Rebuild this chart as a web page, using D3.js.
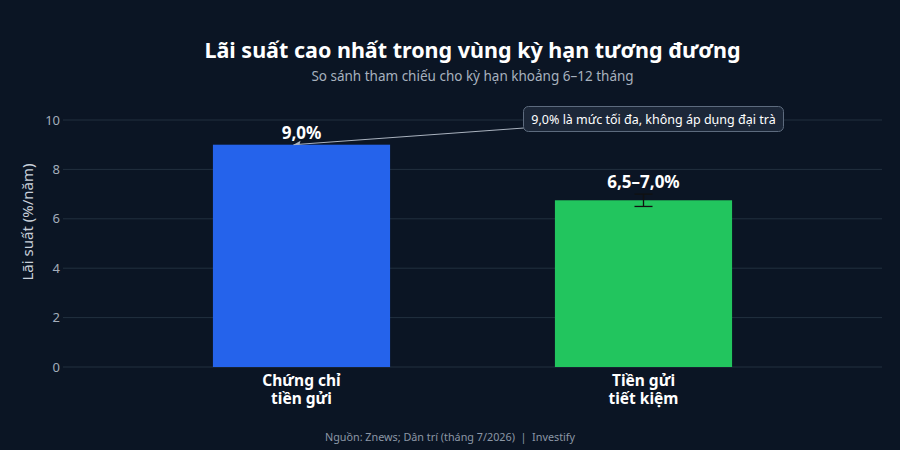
<!DOCTYPE html>
<html>
<head>
<meta charset="utf-8">
<script src="https://cdn.jsdelivr.net/npm/d3@7"></script>
<style>
  body { margin: 0; background: #0b1524; }
  svg text { font-family: "Noto Sans", "Open Sans", sans-serif; white-space: pre; }
</style>
</head>
<body>
<div id="chart"></div>
<script>
// data
var categories = [["Chứng chỉ", "tiền gửi"], ["Tiền gửi", "tiết kiệm"]];
var values = [9.0, 6.75];
var lows = [null, 6.5];
var highs = [null, 7.0];
var valueLabels = ["9,0%", "6,5–7,0%"];
var colors = ["#2563eb", "#22c55e"];
var yTicks = [0, 2, 4, 6, 8, 10];

var w = 900, h = 450;
var pLeft = 63, pRight = 882, pTop = 120, pBottom = 367;
var midX = (pLeft + pRight) / 2;

var svg = d3.select('#chart').append('svg')
    .attr('width', w).attr('height', h);

svg.append('rect').attr('width', w).attr('height', h).attr('fill', '#0b1524');

var y = d3.scaleLinear().domain([0, 10]).range([pBottom, pTop]);
var x = d3.scaleBand().domain([0, 1]).range([130.5, 814.5]).paddingInner(0.482).paddingOuter(0.241);

// grid
svg.append('g').selectAll('line').data(yTicks).enter().append('line')
    .attr('x1', pLeft).attr('x2', pRight)
    .attr('y1', function(d) { return y(d); }).attr('y2', function(d) { return y(d); })
    .attr('stroke', '#22303f').attr('stroke-width', 1);

svg.append('g').selectAll('text').data(yTicks).enter().append('text')
    .attr('x', pLeft - 3).attr('y', function(d) { return y(d); })
    .attr('dy', '0.35em').attr('text-anchor', 'end')
    .attr('fill', '#a3adba').attr('font-size', 13)
    .text(function(d) { return d; });

svg.append('text')
    .attr('transform', 'translate(33,222) rotate(-90)')
    .attr('text-anchor', 'middle').attr('fill', '#c8d0da').attr('font-size', 15)
    .text('Lãi suất (%/năm)');

// bars
svg.append('g').selectAll('rect').data(values).enter().append('rect')
    .attr('x', function(d, i) { return x(i); })
    .attr('width', x.bandwidth())
    .attr('y', function(d) { return y(d); })
    .attr('height', function(d) { return pBottom - y(d); })
    .attr('fill', function(d, i) { return colors[i]; });

// error bar
values.forEach(function(v, i) {
  if (lows[i] == null) return;
  var cx = x(i) + x.bandwidth() / 2;
  var g = svg.append('g').attr('stroke', '#111').attr('stroke-width', 1.3);
  g.append('line').attr('x1', cx).attr('x2', cx).attr('y1', y(highs[i])).attr('y2', y(lows[i]));
  g.append('line').attr('x1', cx - 9).attr('x2', cx + 9).attr('y1', y(highs[i])).attr('y2', y(highs[i]));
  g.append('line').attr('x1', cx - 9).attr('x2', cx + 9).attr('y1', y(lows[i])).attr('y2', y(lows[i]));
});

// value labels
svg.append('g').selectAll('text').data(values).enter().append('text')
    .attr('x', function(d, i) { return x(i) + x.bandwidth() / 2; })
    .attr('y', function(d, i) { return y(highs[i] != null ? highs[i] : d) - 6; })
    .attr('text-anchor', 'middle').attr('fill', '#ffffff')
    .attr('font-size', 17).attr('font-weight', 'bold')
    .text(function(d, i) { return valueLabels[i]; });

// category labels, one text per line
categories.forEach(function(lines, i) {
  svg.append('g').selectAll('text').data(lines).enter().append('text')
      .attr('x', x(i) + x.bandwidth() / 2)
      .attr('y', function(d, j) { return 386 + j * 18; })
      .attr('text-anchor', 'middle').attr('fill', '#ffffff')
      .attr('font-size', 15.5).attr('font-weight', 'bold')
      .text(function(d) { return d; });
});

// annotation
var ax = x(0) + x.bandwidth() / 2 - 8, ay = y(values[0]);
svg.append('line').attr('x1', 524).attr('y1', 128).attr('x2', ax).attr('y2', ay)
    .attr('stroke', '#aab3bf').attr('stroke-width', 1);
svg.append('path').attr('d', 'M' + ax + ',' + ay + ' l7,-4 l-1,4 z').attr('fill', '#aab3bf');
svg.append('rect').attr('x', 523.5).attr('y', 106.5).attr('width', 260).attr('height', 25)
    .attr('rx', 5).attr('fill', '#1c2738').attr('stroke', '#5d6b7e').attr('stroke-width', 1);
svg.append('text').attr('x', 653.5).attr('y', 123.5).attr('text-anchor', 'middle')
    .attr('fill', '#ffffff').attr('font-size', 12.5)
    .text('9,0% là mức tối đa, không áp dụng đại trà');

// titles
svg.append('text').attr('x', midX).attr('y', 58).attr('text-anchor', 'middle')
    .attr('fill', '#ffffff').attr('font-size', 21.5).attr('font-weight', 'bold')
    .text('Lãi suất cao nhất trong vùng kỳ hạn tương đương');
svg.append('text').attr('x', midX).attr('y', 81).attr('text-anchor', 'middle')
    .attr('fill', '#a7b1be').attr('font-size', 13.5)
    .text('So sánh tham chiếu cho kỳ hạn khoảng 6–12 tháng');
svg.append('text').attr('x', 450).attr('y', 441).attr('text-anchor', 'middle')
    .attr('fill', '#8c97a6').attr('font-size', 10.8)
    .text('Nguồn: Znews; Dân trí (tháng 7/2026)  |  Investify');
</script>
</body>
</html>
